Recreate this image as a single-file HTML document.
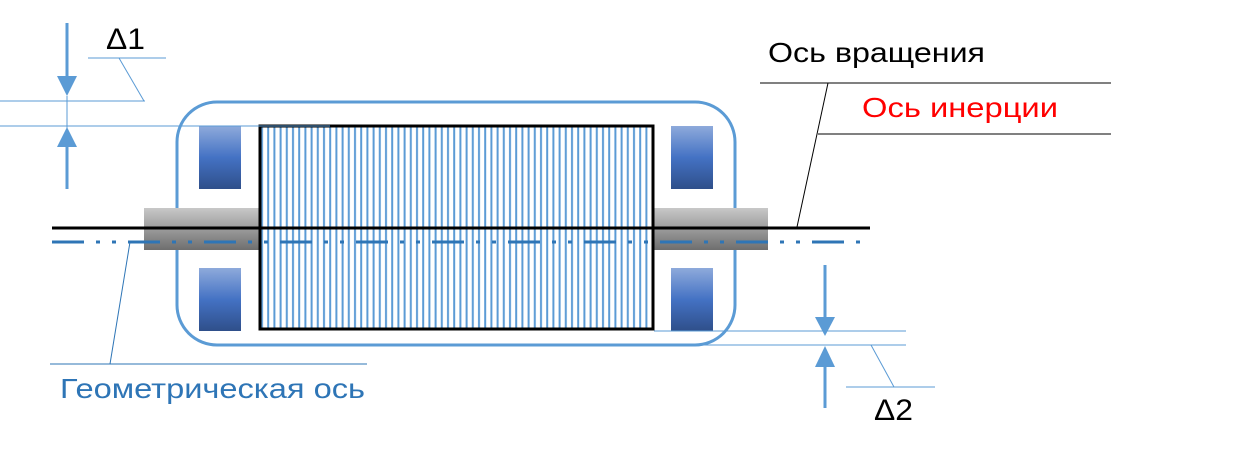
<!DOCTYPE html>
<html><head><meta charset="utf-8"><style>
html,body{margin:0;padding:0;background:#fff;}
svg{display:block;}
text{font-family:"Liberation Sans","DejaVu Sans",sans-serif;}
</style></head><body>
<svg width="1249" height="455" viewBox="0 0 1249 455" xmlns="http://www.w3.org/2000/svg">
<defs>
<linearGradient id="coil" x1="0" y1="0" x2="0" y2="1">
<stop offset="0" stop-color="#8eaadb"/><stop offset="0.5" stop-color="#4472c4"/><stop offset="1" stop-color="#2f4f8a"/>
</linearGradient>
<linearGradient id="shaft" x1="0" y1="0" x2="0" y2="1">
<stop offset="0" stop-color="#c8c8c8"/><stop offset="1" stop-color="#6e6e6e"/>
</linearGradient>
<pattern id="lam" x="259" y="0" width="6.2" height="10" patternUnits="userSpaceOnUse">
<rect x="2" y="0" width="2" height="10" fill="#5b9bd5"/>
</pattern>
</defs>
<rect x="177" y="102" width="558" height="243" rx="40" ry="40" fill="none" stroke="#5b9bd5" stroke-width="3"/>
<rect x="199" y="126" width="42" height="63" fill="url(#coil)"/>
<rect x="199" y="268" width="42" height="63" fill="url(#coil)"/>
<rect x="671" y="126" width="42" height="63" fill="url(#coil)"/>
<rect x="671" y="268" width="42" height="63" fill="url(#coil)"/>
<rect x="144" y="208" width="624" height="42" fill="url(#shaft)"/>
<rect x="259" y="125" width="395" height="205" fill="#fff"/>
<rect x="259" y="125" width="395" height="205" fill="url(#lam)"/>
<rect x="260" y="126" width="393" height="203" fill="none" stroke="#000" stroke-width="3"/>
<line x1="52" y1="228" x2="870" y2="228" stroke="#000" stroke-width="3"/>
<line x1="52" y1="242" x2="870" y2="242" stroke="#2e75b6" stroke-width="3" stroke-dasharray="32 12 4 12 4 12"/>
<line x1="0" y1="101" x2="145" y2="101" stroke="#5b9bd5" stroke-width="1"/>
<line x1="0" y1="126" x2="330" y2="126" stroke="#5b9bd5" stroke-width="1"/>
<line x1="67" y1="23" x2="67" y2="90" stroke="#5b9bd5" stroke-width="3"/>
<polygon points="57,76 77,76 67,96" fill="#5b9bd5"/>
<line x1="67" y1="96" x2="67" y2="131" stroke="#5b9bd5" stroke-width="1"/>
<polygon points="57,147 77,147 67,127" fill="#5b9bd5"/>
<line x1="67" y1="140" x2="67" y2="189" stroke="#5b9bd5" stroke-width="3"/>
<line x1="88" y1="58" x2="166" y2="58" stroke="#5b9bd5" stroke-width="1"/>
<line x1="119" y1="58" x2="144" y2="101" stroke="#5b9bd5" stroke-width="1"/>
<text x="106" y="49" font-size="30" fill="#000" textLength="39" lengthAdjust="spacingAndGlyphs">Δ1</text>
<line x1="654" y1="331" x2="906" y2="331" stroke="#5b9bd5" stroke-width="1"/>
<line x1="700" y1="345" x2="906" y2="345" stroke="#5b9bd5" stroke-width="1"/>
<line x1="825" y1="265" x2="825" y2="322" stroke="#5b9bd5" stroke-width="3"/>
<polygon points="815,317 835,317 825,336" fill="#5b9bd5"/>
<polygon points="815,367 835,367 825,346" fill="#5b9bd5"/>
<line x1="825" y1="360" x2="825" y2="408" stroke="#5b9bd5" stroke-width="3"/>
<line x1="846" y1="387" x2="935" y2="387" stroke="#5b9bd5" stroke-width="1"/>
<line x1="871" y1="345" x2="894" y2="387" stroke="#5b9bd5" stroke-width="1"/>
<text x="874" y="420" font-size="30" fill="#000" textLength="39" lengthAdjust="spacingAndGlyphs">Δ2</text>
<text x="768" y="62" font-size="28" fill="#000" textLength="217" lengthAdjust="spacingAndGlyphs">Ось вращения</text>
<line x1="760" y1="83" x2="1111" y2="83" stroke="#000" stroke-width="1"/>
<text x="862" y="117" font-size="28" fill="#ff0000" textLength="196" lengthAdjust="spacingAndGlyphs">Ось инерции</text>
<line x1="818" y1="134" x2="1111" y2="134" stroke="#000" stroke-width="1"/>
<line x1="828" y1="83" x2="797" y2="227" stroke="#000" stroke-width="1"/>
<line x1="50" y1="364" x2="367" y2="364" stroke="#2e75b6" stroke-width="1"/>
<line x1="110" y1="364" x2="130" y2="242" stroke="#2e75b6" stroke-width="1"/>
<text x="60" y="398" font-size="28" fill="#2e75b6" textLength="305" lengthAdjust="spacingAndGlyphs">Геометрическая ось</text>
</svg>
</body></html>
